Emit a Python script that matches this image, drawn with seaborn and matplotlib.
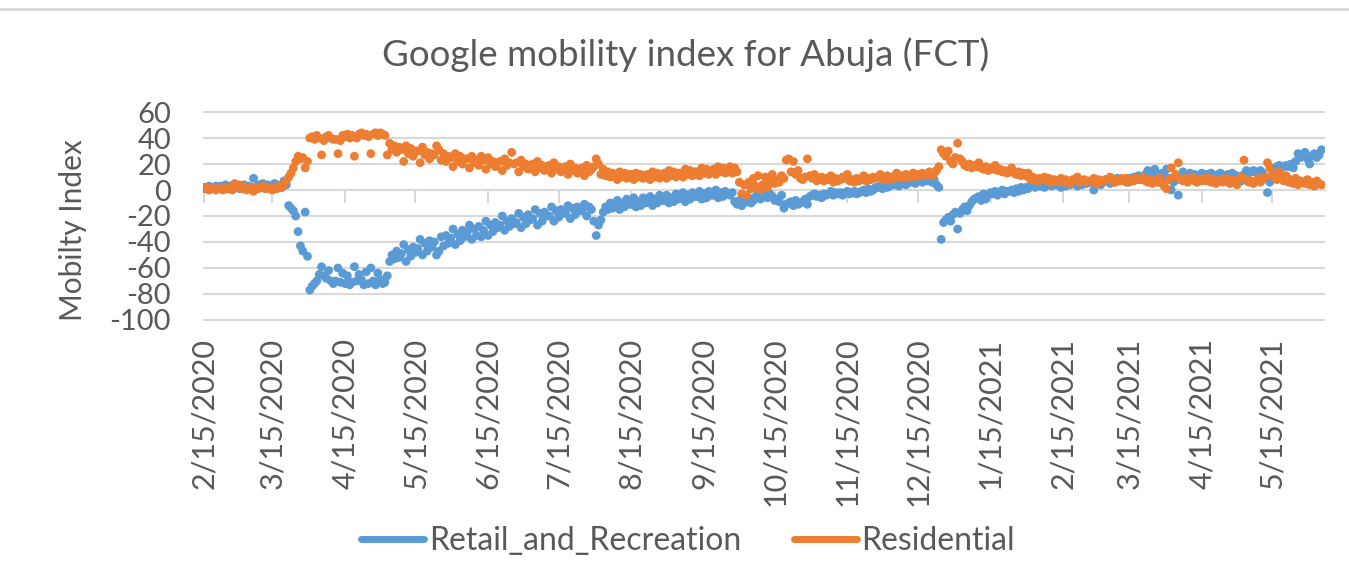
import pandas as pd
import matplotlib
matplotlib.use("Agg")
import matplotlib.pyplot as plt
import matplotlib.dates as mdates
from matplotlib.lines import Line2D
import seaborn as sns

# first day of the daily series (a Saturday), one row below = one week Sat..Fri
START_DATE = "2020-02-15"

retail = [
    2, 1, 3, 2, 1, 3, 2,
    3, 2, 4, 1, 3, 2, 4,
    2, 1, 3, 4, 2, 3, 2,
    9, 2, 4, 3, 5, 2, 4,
    3, 2, 5, 4, 3, 2, 7,
    4, -12, -14, -16, -20, -32, -43,
    -47, -17, -51, -77, -74, -72, -70,
    -65, -59, -66, -68, -62, -70, -72,
    -70, -60, -71, -64, -72, -66, -73,
    -71, -59, -70, -65, -69, -73, -63,
    -72, -60, -70, -73, -64, -69, -72,
    -71, -66, -55, -50, -53, -47, -52,
    -49, -42, -55, -46, -51, -44, -48,
    -45, -38, -50, -41, -47, -39, -44,
    -40, -50, -47, -36, -43, -35, -41,
    -37, -30, -42, -34, -39, -31, -36,
    -33, -27, -38, -30, -35, -28, -36,
    -31, -24, -35, -27, -32, -25, -29,
    -27, -20, -31, -24, -28, -22, -26,
    -25, -18, -29, -21, -26, -19, -23,
    -22, -15, -27, -18, -24, -17, -20,
    -20, -13, -24, -16, -21, -15, -18,
    -18, -12, -22, -14, -19, -13, -16,
    -16, -11, -20, -13, -15, -24, -35,
    -27, -23, -17, -13, -15, -10, -14,
    -12, -8, -15, -10, -13, -7, -11,
    -11, -6, -13, -9, -12, -6, -10,
    -9, -5, -12, -7, -10, -4, -8,
    -8, -4, -10, -6, -9, -3, -7,
    -6, -2, -9, -4, -7, -2, -5,
    -5, -1, -7, -3, -6, -1, -4,
    -4, 0, -6, -2, -5, -1, -3,
    -4, -2, -9, -11, -8, -12, -10,
    -9, -6, -10, -8, -5, -3, -7,
    -4, -2, -6, -3, -5, -8, -7,
    -9, -4, -14, -11, -10, -9, -12,
    -8, -11, -10, -9, -7, -11, -5,
    -4, -3, -5, -4, -6, -3, -4,
    -3, -1, -4, -2, -3, -2, -4,
    -2, -1, -3, -2, -1, -3, -2,
    -1, 0, -2, 1, -1, 0, 2,
    2, 3, 1, 4, 2, 3, 5,
    4, 6, 3, 5, 7, 4, 6,
    6, 8, 5, 7, 9, 6, 8,
    7, 9, 6, 8, 4, 2, -38,
    -25, -23, -21, -24, -19, -17, -30,
    -18, -15, -13, -16, -12, -9, -7,
    -6, -5, -8, -3, -7, -4, -2,
    -3, -1, -4, -2, 0, -3, -1,
    -1, 0, -2, 1, -1, 2, 0,
    2, 1, 3, 4, 2, 5, 3,
    3, 2, 4, 5, 3, 6, 4,
    4, 2, 5, 3, 6, 4, 5,
    5, 3, 6, 4, 7, 5, 6,
    6, 0, 5, 7, 4, 6, 8,
    7, 5, 8, 6, 9, 7, 8,
    8, 6, 9, 7, 10, 8, 11,
    10, 8, 12, 15, 11, 13, 16,
    12, 10, 13, 11, 16, 9, 0,
    6, 8, -4, 9, 14, 11, 12,
    13, 10, 12, 9, 11, 13, 10,
    12, 9, 13, 11, 10, 12, 13,
    11, 8, 12, 10, 13, 9, 11,
    10, 7, 12, 15, 13, 14, 15,
    14, 12, 15, 13, 9, -2, 6,
    10, 17, 18, 19, 17, 18, 19,
    18, 20, 17, 22, 28, 25, 27,
    29, 24, 20, 26, 28, 25, 27,
    31,
]

residential = [
    1, 2, 0, 1, 1, 0, 1,
    1, 0, 2, 1, 1, 0, 5,
    3, 4, 1, 2, 0, 1, 2,
    -1, 2, 1, 2, 3, 1, 2,
    1, 0, 2, 1, 3, 2, 5,
    7, 10, 13, 17, 22, 26, 24,
    25, 17, 22, 40, 41, 39, 42,
    40, 27, 38, 41, 42, 40, 39,
    39, 28, 38, 42, 41, 43, 40,
    42, 26, 40, 43, 44, 42, 43,
    41, 28, 43, 44, 42, 44, 43,
    42, 27, 36, 31, 34, 29, 33,
    31, 22, 34, 28, 32, 26, 30,
    30, 21, 33, 27, 29, 24, 28,
    27, 34, 31, 23, 28, 22, 26,
    25, 18, 28, 22, 26, 20, 24,
    24, 17, 26, 21, 23, 19, 26,
    23, 16, 25, 20, 22, 18, 21,
    22, 15, 24, 19, 21, 29, 20,
    21, 14, 23, 18, 20, 16, 19,
    20, 14, 22, 17, 19, 15, 18,
    19, 13, 21, 16, 18, 14, 17,
    18, 12, 20, 15, 17, 13, 16,
    17, 11, 19, 14, 16, 18, 24,
    20, 12, 16, 11, 14, 10, 13,
    12, 8, 14, 10, 13, 9, 12,
    12, 8, 13, 10, 12, 9, 11,
    12, 8, 14, 10, 13, 9, 12,
    13, 9, 15, 11, 14, 10, 13,
    13, 10, 16, 12, 15, 11, 14,
    14, 11, 17, 13, 16, 12, 15,
    16, 12, 18, 14, 17, 13, 16,
    18, 13, 17, 14, 6, -3, 4,
    -4, 6, 1, 9, 3, 11, 0,
    4, 10, 2, 7, 12, 5, 8,
    6, 11, 9, 23, 24, 14, 22,
    12, 15, 9, 8, 10, 24, 11,
    9, 12, 7, 8, 10, 7, 9,
    8, 11, 6, 9, 7, 8, 10,
    9, 12, 7, 8, 6, 9, 7,
    8, 11, 7, 9, 8, 10, 9,
    10, 12, 8, 9, 11, 8, 10,
    9, 13, 10, 11, 9, 12, 10,
    11, 13, 10, 12, 11, 13, 12,
    12, 14, 11, 13, 15, 18, 31,
    28, 26, 30, 22, 20, 25, 36,
    24, 22, 19, 18, 20, 17, 19,
    18, 21, 17, 16, 18, 15, 17,
    16, 19, 15, 16, 14, 15, 13,
    14, 17, 13, 12, 14, 11, 13,
    11, 13, 8, 10, 9, 7, 9,
    8, 10, 7, 9, 6, 8, 7,
    7, 9, 6, 8, 7, 5, 8,
    8, 10, 6, 7, 8, 6, 7,
    7, 9, 5, 8, 6, 7, 8,
    8, 10, 7, 6, 8, 7, 9,
    7, 9, 6, 8, 7, 9, 8,
    8, 10, 7, 6, 8, 5, 7,
    6, 9, 5, 3, 1, 8, 17,
    10, 12, 21, 8, 7, 9, 6,
    8, 10, 7, 6, 8, 7, 9,
    7, 9, 6, 8, 5, 7, 8,
    6, 9, 7, 5, 8, 6, 4,
    9, 10, 23, 8, 6, 7, 5,
    7, 9, 6, 8, 10, 21, 17,
    12, 10, 8, 14, 9, 7, 11,
    6, 8, 5, 9, 4, 7, 6,
    5, 8, 4, 6, 3, 7, 5,
    4,
]

series_names = ["Retail_and_Recreation", "Residential"]
series_colors = ["#5B9BD5", "#ED7D31"]

tick_dates = ["2020-02-15", "2020-03-15", "2020-04-15", "2020-05-15",
              "2020-06-15", "2020-07-15", "2020-08-15", "2020-09-15",
              "2020-10-15", "2020-11-15", "2020-12-15", "2021-01-15",
              "2021-02-15", "2021-03-15", "2021-04-15", "2021-05-15"]
tick_labels = ["2/15/2020", "3/15/2020", "4/15/2020", "5/15/2020",
               "6/15/2020", "7/15/2020", "8/15/2020", "9/15/2020",
               "10/15/2020", "11/15/2020", "12/15/2020", "1/15/2021",
               "2/15/2021", "3/15/2021", "4/15/2021", "5/15/2021"]
y_ticks = [-100, -80, -60, -40, -20, 0, 20, 40, 60]

TEXT = "#595959"
GRID = "#D9D9D9"

sns.set_theme(style="white")
plt.rcParams["font.family"] = ["Lato", "DejaVu Sans"]
plt.rcParams["axes.unicode_minus"] = False

dates = pd.date_range(START_DATE, periods=len(retail), freq="D")
df = pd.concat([
    pd.DataFrame({"date": dates, "value": retail, "series": series_names[0]}),
    pd.DataFrame({"date": dates, "value": residential, "series": series_names[1]}),
], ignore_index=True)

fig = plt.figure(figsize=(13.49, 5.77), dpi=100)
ax = fig.add_axes([0.1505, 0.4437, 0.8317, 0.3639])

sns.scatterplot(data=df, x="date", y="value", hue="series",
                palette=dict(zip(series_names, series_colors)),
                s=40, linewidth=0, legend=False, ax=ax, zorder=3)

ax.set_xlim(dates[0] - pd.Timedelta(days=0.5), dates[-1] + pd.Timedelta(days=1.5))
ax.set_ylim(-100.8, 60.8)
ax.set_yticks(y_ticks)
ax.grid(axis="y", color=GRID, lw=1.5)
ax.grid(axis="x", visible=False)
ax.set_axisbelow(True)
for side in ["top", "right", "left"]:
    ax.spines[side].set_visible(False)
ax.spines["bottom"].set_position(("data", 0))
ax.spines["bottom"].set_color(GRID)
ax.spines["bottom"].set_linewidth(1.5)

tick_nums = mdates.date2num(pd.to_datetime(tick_dates))
ax.set_xticks(tick_nums)
ax.tick_params(axis="x", direction="out", length=9, width=1.5, color=GRID,
               labelbottom=False, bottom=True)
ax.tick_params(axis="y", length=0, pad=23, labelsize=21, labelcolor=TEXT)
ax.set_xlabel("")
ax.set_ylabel("Mobilty Index", fontsize=21.5, color=TEXT)
ax.yaxis.set_label_coords(-0.103, 0.433)

# date labels sit below the plot area, tick marks stay on the zero line
sec = ax.secondary_xaxis(0.0)
sec.set_xticks(tick_nums, labels=tick_labels)
sec.spines["bottom"].set_visible(False)
sec.tick_params(axis="x", length=0, pad=12, labelsize=22, labelcolor=TEXT,
                labelrotation=90)

fig.text(0.508, 0.905, "Google mobility index for Abuja (FCT)",
         ha="center", va="center", fontsize=26.5, color=TEXT)

handles = [Line2D([], [], color=c, lw=5, solid_capstyle="round") for c in series_colors]
fig.legend(handles, series_names, loc="center", bbox_to_anchor=(0.51, 0.0624),
           ncol=2, frameon=False, fontsize=23, handlelength=1.97,
           handletextpad=0.15, columnspacing=1.65, labelcolor=TEXT)

fig.add_artist(Line2D([0, 1], [1 - 9 / 577] * 2, transform=fig.transFigure,
                      color=GRID, lw=2))

fig.savefig("out.png", dpi=100)
